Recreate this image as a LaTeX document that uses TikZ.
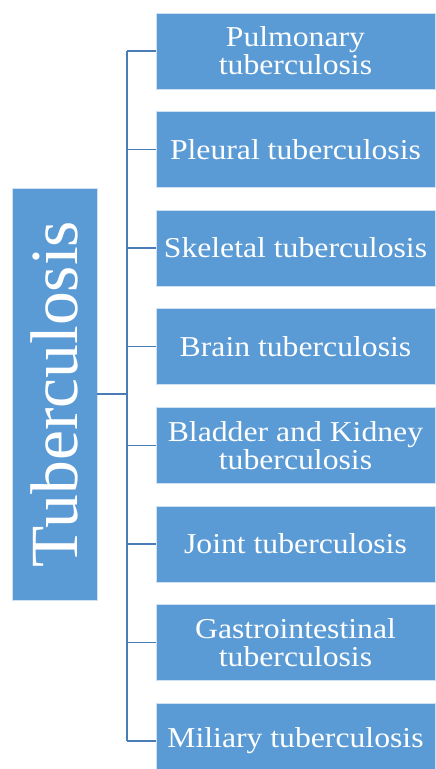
\documentclass[tikz,border=0pt]{standalone}
\usepackage{fontspec}
\setmainfont{Liberation Serif}
\newfontfamily\boxfont[FakeStretch=1.1]{Liberation Serif}
\usetikzlibrary{positioning}
\definecolor{tbfill}{HTML}{5B9BD5}
\definecolor{tbline}{HTML}{4A7DB5}

\begin{document}
\begin{tikzpicture}[
  node distance=5.5mm,
  kind/.style={draw=white!70!tbfill, fill=tbfill, text=white, align=center, inner sep=1mm,
    minimum width=69.75mm, minimum height=19mm, font=\boxfont\fontsize{20.5}{19.9}\selectfont},
  root/.style={draw=white!70!tbfill, fill=tbfill, text=white, rotate=90,
    minimum width=103mm, minimum height=21.25mm, font=\fontsize{48}{50}\selectfont},
  link/.style={draw=tbline, line width=0.35mm},
]
\useasboundingbox (0,0) rectangle (108.75mm,-192.25mm);

% ---------------- root ----------------
\node[root] (tb) at (13.625mm,-98.5mm) {Tuberculosis};
\coordinate (trunk) at (31.75mm,-98.5mm);

% ---------------- kinds ----------------
\node[kind] (pulm) at (73.875mm,-12.75mm) {Pulmonary\\tuberculosis};
\node[kind, below=of pulm] (pleu) {Pleural tuberculosis};
\node[kind, below=of pleu] (skel) {Skeletal tuberculosis};
\node[kind, below=of skel] (brain) {Brain tuberculosis};
\node[kind, below=of brain] (blad) {Bladder and Kidney\\tuberculosis};
\node[kind, below=of blad] (joint) {Joint tuberculosis};
\node[kind, below=of joint] (gastro) {Gastrointestinal\\tuberculosis};
\node[kind, below=of gastro] (mil) {Miliary tuberculosis};

% ---------------- connectors ----------------
\draw[link] (tb) -- (trunk);
\draw[link] (trunk |- pulm) -- (trunk |- mil);
\foreach \k in {pulm,pleu,skel,brain,blad,joint,gastro,mil}
  \draw[link] (trunk |- \k) -- (\k.west);
\end{tikzpicture}
\end{document}
